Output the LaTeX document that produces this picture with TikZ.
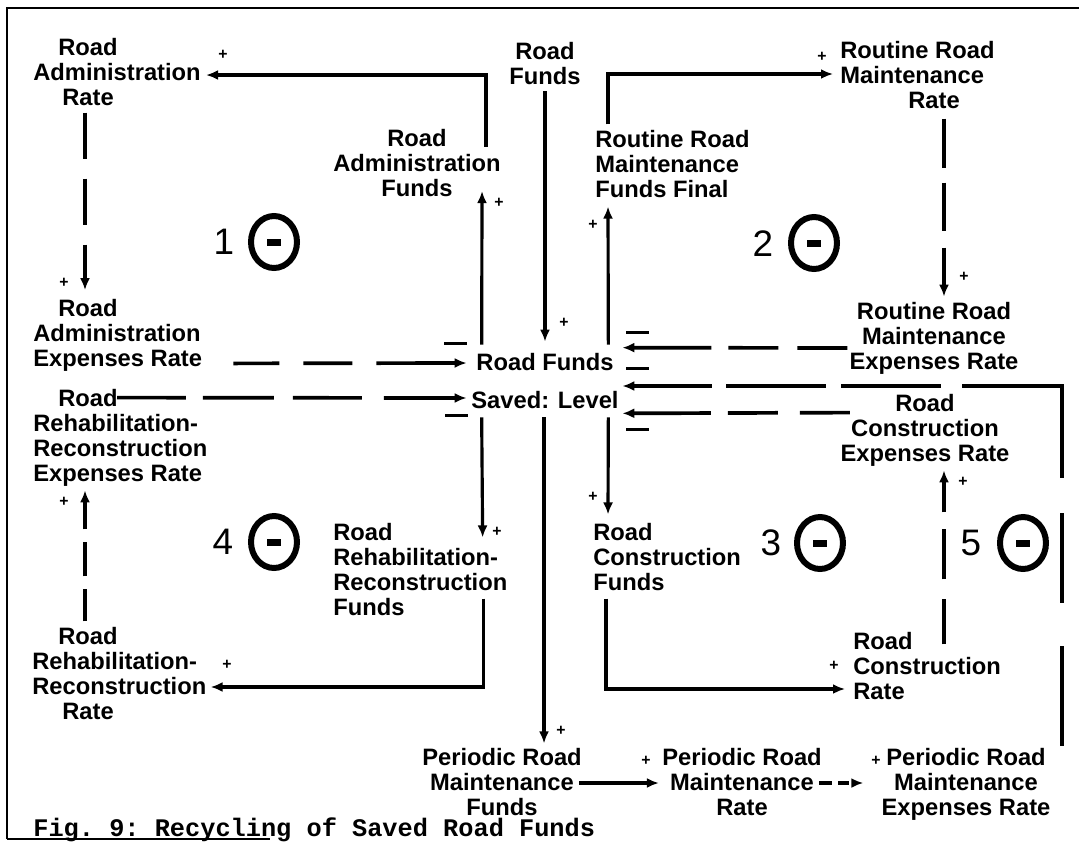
\documentclass[tikz,border=0pt]{standalone}
\usepackage{fontspec}
\setmainfont{Liberation Sans}
\setmonofont{Liberation Mono}
\usepackage{tikz}
\usetikzlibrary{arrows.meta,calc,shapes.geometric}

\begin{document}
\begin{tikzpicture}[x=0.02cm,y=-0.02cm,>={Latex[length=0.24cm,width=0.2cm]},
  varnode/.style={inner sep=0pt,font=\fontsize{13.5}{14.23}\selectfont\bfseries},
  link/.style={->,line width=1.8pt},
  dlink/.style={->,line width=2.1pt},
  plusmark/.style={inner sep=0pt,font=\fontsize{9}{9}\selectfont\bfseries},
  minusmark/.style={fill,inner sep=0pt,minimum width=0.46cm,minimum height=0.06cm},
  loopnum/.style={inner sep=0pt,font=\fontsize{21}{21}\selectfont},
  loopmark/.style={draw,ellipse,line width=0.12cm,minimum width=0.92cm,minimum height=1.04cm,inner sep=0pt,
    path picture={\fill (path picture bounding box.center) ++(-0.14cm,-0.07cm) rectangle ++(0.28cm,0.14cm);}}]
\useasboundingbox (0,0) rectangle (1079,842);
% Causal loop diagram, pixel grid: x to the right, y downwards.
\draw[line width=1.6pt] (7,839) -- (7,8) -- (1079,8);
\draw[line width=1pt] (7,839) -- (270,839);

% variables
\node[varnode,align=left,anchor=west] (rar) at (33,72) {\hspace*{0.5cm}Road\\Administration\\\hspace*{0.58cm}Rate};
\node[varnode,align=center] (raf) at (417,163) {Road\\Administration\\Funds};
\node[varnode,align=center] (rft) at (545,63.5) {Road\\Funds};
\node[varnode,align=left,anchor=west] (rrmff) at (595,164) {Routine Road\\Maintenance\\Funds Final};
\node[varnode,align=left,anchor=west] (rrmr) at (840,75) {Routine Road\\Maintenance\\\hspace*{1.36cm}Rate};
\node[varnode,align=center] (rrmer) at (934,338.5) {Routine Road\\Maintenance\\Expenses Rate};
\node[varnode,align=left,anchor=west] (raer) at (33,335.5) {\hspace*{0.5cm}Road\\Administration\\Expenses Rate};
\node[varnode,align=center,minimum width=3.08cm,minimum height=1.44cm] (sav) at (545,381) {Road Funds\\[0.26cm]Saved: Level};
\node[varnode,align=left,anchor=west] (rrre) at (33,438) {\hspace*{0.5cm}Road\\Rehabilitation-\\Reconstruction\\Expenses Rate};
\node[varnode,align=center] (rcer) at (925,430.5) {Road\\Construction\\Expenses Rate};
\node[varnode,align=left,anchor=west] (rrrf) at (333,569.5) {Road\\Rehabilitation-\\Reconstruction\\Funds};
\node[varnode,align=left,anchor=west] (rcf) at (593,557) {Road\\Construction\\Funds};
\node[varnode,align=left,anchor=west] (rcr) at (853,666) {Road\\Construction\\Rate};
\node[varnode,align=left,anchor=west] (rrrr) at (32,674) {\hspace*{0.52cm}Road\\Rehabilitation-\\Reconstruction\\\hspace*{0.6cm}Rate};
\node[varnode,align=center] (prmf) at (502,782) {Periodic Road\\Maintenance\\Funds};
\node[varnode,align=center] (prmr) at (742,782) {Periodic Road\\Maintenance\\Rate};
\node[varnode,align=center] (prmer) at (966,784.5) {Periodic Road\\Maintenance\\Expenses Rate};

% loop 1
\draw[link] ($(raf.north east)+(-15,18)$) |- ($(rar.east)+(5,3)$);
\draw[link] ($(sav.north west)+(14,0)$) -- ($(raf.south east)+(-19,-6)$);
\draw[dlink,dash pattern=on 0.92cm off 0.4cm on 0.92cm off 0.4cm on 2cm] ($(rar.south west)+(52,6.5)$) -- ($(raer.north west)+(52,-9)$);
\draw[dlink,dash pattern=on 0.92cm off 0.48cm on 0.98cm off 0.48cm on 3cm] ($(raer.south east)+(31,-8.5)$) -- ($(sav.west)+(-1,-18)$);
% loop 4
\draw[dlink,dash pattern=on 1.38cm off 0.34cm on 1.42cm off 0.38cm on 1.38cm off 0.44cm on 3cm] ($(rrre.north west)+(84,8.5)$) -- ($(sav.west)+(-1,17)$);
\draw[link] ($(sav.south west)+(14,0)$) -- ($(rrrf.north east)+(-25,14.5)$);
\draw[link] ($(rrrf.south east)+(-24,-17.5)$) |- ($(rrrr.east)+(4,13)$);
\draw[dlink,dash pattern=on 0.64cm off 0.26cm on 0.68cm off 0.26cm on 2cm] ($(rrrr.north west)+(53,-6)$) -- ($(rrre.south west)+(52,3.5)$);
% loop 2
\draw[link] ($(rft.south)+(0,6)$) -- ($(sav.north)+(0,-3)$);
\draw[link] ($(sav.north east)+(-14,0)$) -- ($(rrmff.south west)+(13,8.5)$);
\draw[link] ($(rrmff.north west)+(13,-5.5)$) |- ($(rrmr.west)+(-7,-1)$);
\draw[dlink,dash pattern=on 0.98cm off 0.3cm on 0.96cm off 0.34cm on 2cm] ($(rrmr.south west)+(104,9.5)$) -- ($(rrmer.north)+(10,-5.5)$);
\draw[dlink,dash pattern=on 1cm off 0.38cm on 1cm off 0.34cm on 3cm] ($(rrmer.west)+(-2,9.5)$) -- ($(sav.north east)+(0,3)$);
% loop 3
\draw[link] ($(sav.south east)+(-14,0)$) -- ($(rcf.north west)+(15,-8.5)$);
\draw[link] ($(rcf.south west)+(13,7.5)$) |- ($(rcr.west)+(-8,23)$);
\draw[dlink,dash pattern=on 0.9cm off 0.4cm on 1cm off 0.34cm on 2cm] ($(rcr.north west)+(91,12.5)$) -- ($(rcer.south)+(19,3.5)$);
\draw[dlink,dash pattern=on 1cm off 0.44cm on 1cm off 0.34cm on 3cm] ($(rcer.north west)+(9.5,18.5)$) -- ($(sav.south east)+(0,-4)$);
% loop 5 and periodic maintenance
\draw[link] ($(sav.south)+(-1,0)$) -- ($(prmf.north)+(42,-4.5)$);
\draw[link] ($(prmf.east)+(-3,1)$) -- ($(prmr.west)+(-3,1)$);
\draw[dlink,dash pattern=on 0.26cm off 0.12cm on 0.22cm off 0.14cm on 1cm] ($(prmr.east)+(-3,1)$) -- ($(prmer.west)+(-18,-1.5)$);
\draw[dlink,dash pattern=on 2cm off 0.86cm on 1.8cm off 0.7cm on 3.84cm off 0.42cm on 2cm off 0.3cm on 2cm off 0.28cm on 3cm] ($(prmer.north east)+(11.5,-2.5)$) |- ($(sav.east)+(0,5)$);

% link polarities
\node[plusmark] (s1) at (223,55) {+};
\node[plusmark] (s2) at (499,203) {+};
\node[plusmark] (s3) at (64,283) {+};
\node[minusmark] (s4) at (455,343) {};
\node[minusmark] (s5) at (456,415) {};
\node[plusmark] (s6) at (564,323) {+};
\node[plusmark] (s7) at (593,225) {+};
\node[plusmark] (s8) at (822,57) {+};
\node[plusmark] (s9) at (964,277) {+};
\node[minusmark] (s10) at (637,332) {};
\node[minusmark] (s11) at (637,368) {};
\node[minusmark] (s12) at (637,429) {};
\node[plusmark] (s13) at (497,532) {+};
\node[plusmark] (s14) at (227,665) {+};
\node[plusmark] (s15) at (64,502) {+};
\node[plusmark] (s16) at (593,497) {+};
\node[plusmark] (s17) at (834,666) {+};
\node[plusmark] (s18) at (963,482) {+};
\node[plusmark] (s19) at (561,731) {+};
\node[plusmark] (s20) at (646,761) {+};
\node[plusmark] (s21) at (876,761) {+};

% loop markers
\node[loopnum] (n1) at (224,242) {1};
\node[loopmark] (l1) at (274,242) {};
\node[loopnum] (n2) at (763,244) {2};
\node[loopmark] (l2) at (814,243) {};
\node[loopnum] (n3) at (771,543) {3};
\node[loopmark] (l3) at (820,543) {};
\node[loopnum] (n4) at (223,542) {4};
\node[loopmark] (l4) at (274,542) {};
\node[loopnum] (n5) at (971,543) {5};
\node[loopmark] (l5) at (1023,543) {};

\node[font=\ttfamily\bfseries\fontsize{14.4}{14.4}\selectfont,inner sep=0pt,anchor=base west] (cap) at (33,836) {Fig. 9: Recycling of Saved Road Funds};
\end{tikzpicture}
\end{document}
